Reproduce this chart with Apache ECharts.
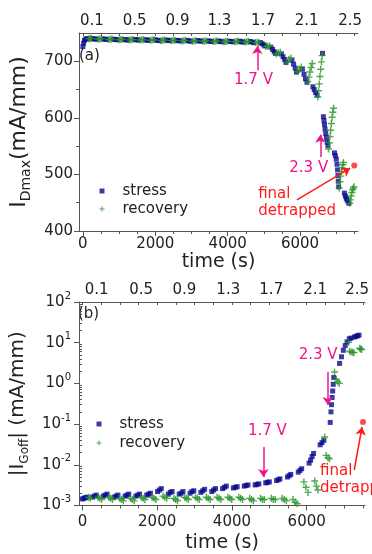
<!DOCTYPE html>
<html>
<head>
<meta charset="utf-8">
<script src="https://cdn.jsdelivr.net/npm/echarts@6/dist/echarts.min.js"></script>
<style>
  html, body { margin: 0; padding: 0; background: #fff; }
  #chart { width: 372px; height: 554px; }
</style>
</head>
<body>
<div id="chart"></div>
<script>
const font = 'DejaVu Sans';
const axisColor = '#555';
const textColor = '#222';
const pink = '#f0148c';
const red = '#ff1a1a';
const blue = '#0a0a90';
const green = '#249424';

// tick labels
const timeLabels = [0, 2000, 4000, 6000];
const voltLabels = ['0.1', '0.5', '0.9', '1.3', '1.7', '2.1', '2.5'];
const voltTimesA = [249, 1431, 2614, 3772, 4976, 6180, 7384];
const voltTimesB = [379, 1572, 2728, 3903, 5052, 6227, 7350];
const idmaxLabels = [400, 500, 600, 700];
const idmaxMinor = [450, 550, 650];
const igoffLabels = [1e-3, 1e-2, 1e-1, 1, 10, 100];

// (a) I_Dmax, mA/mm
const stressA = [
  [0, 726], [20, 732], [45, 737], [80, 739.5], [120, 740],
  [270, 740], [320, 739.5], [370, 739],
  [560, 739.5], [610, 739], [660, 738.5],
  [850, 739], [900, 738.5], [950, 738],
  [1140, 738.5], [1190, 738], [1240, 737.5],
  [1430, 738.5], [1480, 738], [1530, 737.5],
  [1720, 738], [1770, 737.5], [1820, 737],
  [2010, 738], [2060, 737], [2110, 736.5],
  [2300, 737.5], [2350, 737], [2400, 736.5],
  [2590, 737], [2640, 736.5], [2690, 736],
  [2880, 737], [2930, 736], [2980, 735.5],
  [3170, 736.5], [3220, 736], [3270, 735.5],
  [3460, 736], [3510, 735.5], [3560, 735],
  [3750, 736], [3800, 735], [3850, 734.5],
  [4040, 735.5], [4090, 735], [4140, 734.5],
  [4330, 735.5], [4380, 734.5], [4430, 734],
  [4620, 735], [4670, 734], [4720, 733],
  [4905, 733], [4950, 731], [5000, 729], [5030, 727],
  [5195, 725], [5240, 721], [5285, 717], [5320, 714],
  [5485, 713], [5530, 708], [5575, 703], [5610, 698],
  [5775, 702], [5820, 695], [5865, 688], [5900, 681],
  [6065, 686], [6110, 677], [6150, 669], [6190, 663],
  [6355, 655], [6390, 650], [6430, 645], [6470, 640],
  [6620, 714], [6645, 602], [6660, 595], [6675, 588], [6690, 580], [6710, 572], [6730, 565], [6750, 557], [6770, 551],
  [6950, 538], [6975, 533], [7000, 527], [7020, 518], [7035, 508], [7045, 498], [7055, 488], [7065, 478],
  [7225, 467], [7250, 462], [7275, 458], [7300, 455], [7325, 452], [7350, 449]
];
const recoveryA = [
  [160, 740], [200, 740], [235, 740.5],
  [415, 739], [465, 739.5], [515, 740],
  [705, 738.5], [755, 739], [805, 739.5],
  [995, 738], [1045, 738.5], [1095, 739],
  [1285, 737.5], [1335, 738], [1385, 738.5],
  [1575, 737.5], [1625, 738], [1675, 738],
  [1865, 737], [1915, 737.5], [1965, 738],
  [2155, 736.5], [2205, 737], [2255, 737.5],
  [2445, 736.5], [2495, 737], [2545, 737],
  [2735, 736], [2785, 736.5], [2835, 737],
  [3025, 735.5], [3075, 736], [3125, 736.5],
  [3315, 735.5], [3365, 736], [3415, 736],
  [3605, 735], [3655, 735.5], [3705, 736],
  [3895, 734.5], [3945, 735], [3995, 735.5],
  [4185, 734.5], [4235, 735], [4285, 735.5],
  [4475, 734], [4525, 734.5], [4575, 735],
  [4765, 733], [4815, 733.5], [4865, 733.5],
  [5055, 726], [5105, 726.5], [5160, 727],
  [5345, 713], [5400, 715], [5455, 716],
  [5635, 699], [5690, 703], [5745, 706],
  [5925, 682], [5980, 686], [6035, 690],
  [6215, 664], [6245, 672], [6275, 681], [6305, 689], [6335, 696],
  [6490, 637], [6510, 648], [6530, 660], [6550, 673], [6570, 686], [6590, 699], [6610, 710],
  [6785, 545], [6805, 556], [6825, 567], [6845, 578], [6865, 590], [6885, 601], [6905, 610], [6925, 617],
  [7080, 476], [7100, 487], [7120, 497], [7140, 505], [7160, 512], [7180, 517], [7200, 521],
  [7370, 449], [7390, 455], [7410, 462], [7430, 468], [7450, 473], [7470, 476], [7490, 478]
];
const finalA = [[7497, 516]];

// (b) |I_Goff|, mA/mm
const stressB = [
  [0, 0.00145], [40, 0.0015], [80, 0.00155], [120, 0.0016],
  [270, 0.0016], [320, 0.0017], [370, 0.0018],
  [560, 0.0017], [610, 0.0018], [660, 0.0019],
  [850, 0.0016], [900, 0.0017], [950, 0.0018],
  [1140, 0.0017], [1190, 0.0018], [1240, 0.0019],
  [1430, 0.0017], [1480, 0.0018], [1530, 0.0019],
  [1720, 0.0018], [1770, 0.0019], [1820, 0.0020],
  [2010, 0.0022], [2060, 0.0024], [2110, 0.0026],
  [2300, 0.0019], [2350, 0.0021], [2400, 0.0022],
  [2590, 0.0019], [2640, 0.0020], [2690, 0.0022],
  [2880, 0.0020], [2930, 0.0022], [2980, 0.0023],
  [3170, 0.0021], [3220, 0.0023], [3270, 0.0025],
  [3460, 0.0022], [3510, 0.0024], [3560, 0.0026],
  [3750, 0.0026], [3800, 0.0028], [3850, 0.0030],
  [4040, 0.0027], [4090, 0.0028], [4140, 0.0029],
  [4330, 0.0030], [4380, 0.0031], [4430, 0.0032],
  [4620, 0.0032], [4670, 0.0033], [4720, 0.0034],
  [4905, 0.0036], [4950, 0.0037], [5000, 0.0038],
  [5195, 0.0041], [5240, 0.0043], [5285, 0.0045],
  [5485, 0.0050], [5530, 0.0054], [5575, 0.0058],
  [5775, 0.0066], [5820, 0.0073], [5865, 0.0080],
  [6065, 0.011], [6105, 0.013], [6145, 0.016], [6185, 0.019],
  [6360, 0.031], [6410, 0.035], [6460, 0.040],
  [6630, 0.11], [6650, 0.2], [6665, 0.3], [6680, 0.45], [6695, 0.65], [6710, 0.95], [6725, 1.4],
  [6880, 3.1], [6930, 4.5], [6980, 6.5], [7030, 8.5], [7080, 10.5], [7140, 12.5], [7190, 13],
  [7280, 13.8], [7320, 14.3], [7360, 14.8], [7400, 15.3]
];
const recoveryB = [
  [170, 0.0016], [210, 0.0015],
  [415, 0.0016], [465, 0.0015], [515, 0.0014],
  [705, 0.0016], [755, 0.0015], [805, 0.0014],
  [995, 0.0015], [1045, 0.0014], [1095, 0.0013],
  [1285, 0.0015], [1335, 0.0014], [1385, 0.0013],
  [1575, 0.0016], [1625, 0.0015], [1675, 0.0014],
  [1865, 0.0016], [1915, 0.0015], [1965, 0.0014],
  [2155, 0.0017], [2205, 0.0016], [2255, 0.0015],
  [2445, 0.0015], [2495, 0.0014], [2545, 0.0013],
  [2735, 0.0016], [2785, 0.0015], [2835, 0.0014],
  [3025, 0.0016], [3075, 0.0015], [3125, 0.0014],
  [3315, 0.0016], [3365, 0.0015], [3415, 0.0014],
  [3605, 0.0016], [3655, 0.0015], [3705, 0.0014],
  [3895, 0.0016], [3945, 0.0015], [3995, 0.0014],
  [4185, 0.0016], [4235, 0.0015], [4285, 0.0014],
  [4475, 0.0015], [4525, 0.0014], [4575, 0.0013],
  [4765, 0.0015], [4815, 0.0014], [4865, 0.0014],
  [5055, 0.0015], [5105, 0.0014], [5160, 0.0014],
  [5345, 0.0015], [5400, 0.0014], [5455, 0.0013],
  [5635, 0.0014], [5690, 0.0012], [5745, 0.0011],
  [5925, 0.0038], [5980, 0.0028], [6035, 0.0021],
  [6215, 0.0040], [6260, 0.0030], [6300, 0.0024],
  [6480, 0.048], [6520, 0.017], [6570, 0.015], [6610, 0.014],
  [6745, 1.9], [6790, 1.25], [6830, 1.1], [6870, 1.0],
  [7120, 10.2], [7150, 6.2], [7190, 5.9], [7230, 5.8], [7265, 5.7],
  [7420, 7.3], [7445, 7.0], [7470, 6.8]
];
const finalB = [[7507, 0.113]];

const plusIcon = 'path://M2,0H3V2H5V3H3V5H2V3H0V2H2Z';

// minor ticks
const minorTimes = [];
const topTimes = [];
for (let t = 0; t <= 7500; t += 500) {
    topTimes.push(t);
    if (t % 2000 !== 0) minorTimes.push(t);
}
const igoffMinor = [];
for (let e = -3; e < 2; e++) {
    for (let m = 2; m <= 9; m++) igoffMinor.push(m * Math.pow(10, e));
}

const lineStyle = { color: axisColor, width: 1 };
const labelText = { color: textColor, fontFamily: font, fontSize: 15 };

function timeAxes(grid, min, max, margin, nameGap, voltTimes) {
    return [
        {
            gridIndex: grid, type: 'value', position: 'bottom', min: min, max: max,
            axisLine: { show: true, onZero: false, lineStyle: lineStyle },
            axisTick: { show: true, length: 5, customValues: timeLabels, lineStyle: lineStyle },
            axisLabel: Object.assign({ customValues: timeLabels, margin: margin, formatter: v => String(v) }, labelText),
            splitLine: { show: false },
            name: 'time (s)', nameLocation: 'middle', nameGap: nameGap,
            nameTextStyle: { color: textColor, fontFamily: font, fontSize: 19 }
        },
        {
            gridIndex: grid, type: 'value', position: 'bottom', min: min, max: max,
            axisLine: { show: false, onZero: false },
            axisTick: { show: true, length: 3, customValues: minorTimes, lineStyle: lineStyle },
            axisLabel: { show: false },
            splitLine: { show: false }
        },
        {
            gridIndex: grid, type: 'value', position: 'top', min: min, max: max,
            axisLine: { show: true, onZero: false, lineStyle: lineStyle },
            axisTick: { show: true, inside: true, length: 3, customValues: topTimes, lineStyle: lineStyle },
            axisLabel: Object.assign({
                customValues: voltTimes, margin: 4,
                formatter: v => voltLabels[voltTimes.indexOf(v)]
            }, labelText),
            splitLine: { show: false }
        }
    ];
}

const chart = echarts.init(document.getElementById('chart'));

chart.setOption({
    animation: false,
    textStyle: { fontFamily: font },
    grid: [
        { left: 71, top: 33, width: 287, height: 198 },
        { left: 72, top: 302, width: 293, height: 203.5 }
    ],
    legend: [
        {
            left: 94.5, top: 178.5, orient: 'vertical', itemWidth: 5, itemHeight: 5, itemGap: 3,
            selectedMode: false,
            data: [{ name: 'stress', icon: 'rect' }, { name: 'recovery', icon: plusIcon }],
            textStyle: { color: textColor, fontFamily: font, fontSize: 15, padding: [0, 0, 0, 13] }
        },
        {
            left: 91.5, top: 411.5, orient: 'vertical', itemWidth: 5, itemHeight: 5, itemGap: 4,
            selectedMode: false,
            data: [{ name: 'stress', icon: 'rect' }, { name: 'recovery', icon: plusIcon }],
            textStyle: { color: textColor, fontFamily: font, fontSize: 15, padding: [0, 0, 0, 13] }
        }
    ],
    xAxis: timeAxes(0, -107, 7600, 6, 22, voltTimesA).concat(timeAxes(1, -91, 7560, 9, 28, voltTimesB)),
    yAxis: [
        {
            gridIndex: 0, type: 'value', position: 'left', min: 400, max: 750,
            axisLine: { show: true, onZero: false, lineStyle: lineStyle },
            axisTick: { show: true, length: 5, customValues: idmaxLabels, lineStyle: lineStyle },
            axisLabel: Object.assign({ customValues: idmaxLabels, margin: 6 }, labelText),
            splitLine: { show: false },
            name: '{i|I}{s|Dmax}{i|(mA/mm)}', nameLocation: 'middle', nameRotate: 90, nameGap: 46,
            nameTextStyle: {
                rich: {
                    i: { fontSize: 22, lineHeight: 28, color: textColor, fontFamily: font },
                    s: { fontSize: 14, lineHeight: 14, verticalAlign: 'bottom', color: textColor, fontFamily: font }
                }
            }
        },
        {
            gridIndex: 0, type: 'value', position: 'left', min: 400, max: 750,
            axisLine: { show: false, onZero: false },
            axisTick: { show: true, length: 3, customValues: idmaxMinor, lineStyle: lineStyle },
            axisLabel: { show: false },
            splitLine: { show: false }
        },
        {
            gridIndex: 1, type: 'log', position: 'left', logBase: 10, min: 1e-3, max: 100,
            axisLine: { show: true, onZero: false, lineStyle: lineStyle },
            axisTick: { show: true, length: 5, customValues: igoffLabels, lineStyle: lineStyle },
            axisLabel: Object.assign({
                customValues: igoffLabels, margin: 8, lineHeight: 22,
                formatter: v => '10{sup|' + Math.round(Math.log10(v)) + '}',
                rich: { sup: { fontSize: 10, lineHeight: 10, verticalAlign: 'top', color: textColor, fontFamily: font } }
            }, labelText),
            splitLine: { show: false },
            name: '{i||I}{s|Goff}{i|| (mA/mm)}', nameLocation: 'middle', nameRotate: 90, nameGap: 48,
            nameTextStyle: {
                rich: {
                    i: { fontSize: 20, lineHeight: 26, color: textColor, fontFamily: font },
                    s: { fontSize: 12, lineHeight: 12, verticalAlign: 'bottom', color: textColor, fontFamily: font }
                }
            }
        },
        {
            gridIndex: 1, type: 'log', position: 'left', logBase: 10, min: 1e-3, max: 100,
            axisLine: { show: false, onZero: false },
            axisTick: { show: true, inside: true, length: 3, customValues: igoffMinor, lineStyle: lineStyle },
            axisLabel: { show: false },
            splitLine: { show: false }
        }
    ],
    graphic: [
        { type: 'text', left: 79, top: 49, style: { text: '(a)', font: '15px "DejaVu Sans"', fill: textColor } },
        { type: 'text', left: 78, top: 307, style: { text: '(b)', font: '15px "DejaVu Sans"', fill: textColor } }
    ],
    series: [
        {
            name: 'stress', type: 'scatter', xAxisIndex: 0, yAxisIndex: 0,
            symbol: 'rect', symbolSize: 5, itemStyle: { color: blue }, data: stressA
        },
        {
            name: 'recovery', type: 'scatter', xAxisIndex: 0, yAxisIndex: 0,
            symbol: plusIcon, symbolSize: 7, itemStyle: { color: green }, data: recoveryA
        },
        {
            name: 'final detrapped', type: 'scatter', xAxisIndex: 0, yAxisIndex: 0,
            symbol: 'circle', symbolSize: 6, itemStyle: { color: red }, data: finalA,
            markLine: {
                silent: true, symbol: ['none', 'arrow'], symbolSize: 8, label: { show: false },
                data: [
                    [{ coord: [4819, 684], lineStyle: { color: pink, width: 1.5, type: 'solid' } }, { coord: [4819, 727] }],
                    [{ coord: [6560, 531], lineStyle: { color: pink, width: 1.5, type: 'solid' } }, { coord: [6560, 570] }],
                    [{ coord: [5912, 455], lineStyle: { color: red, width: 1.5, type: 'solid' } }, { coord: [7384, 511] }]
                ]
            },
            markPoint: {
                symbol: 'rect', symbolSize: 1, itemStyle: { color: 'rgba(0,0,0,0)' },
                data: [
                    { coord: [4712, 666], label: { formatter: '1.7 V', color: pink, fontSize: 15, fontFamily: font } },
                    { coord: [6238, 511], label: { formatter: '2.3 V', color: pink, fontSize: 15, fontFamily: font } },
                    { coord: [4842, 450], label: { formatter: 'final\ndetrapped', align: 'left', lineHeight: 17, color: red, fontSize: 15, fontFamily: font } }
                ]
            }
        },
        {
            name: 'stress', type: 'scatter', xAxisIndex: 3, yAxisIndex: 2,
            symbol: 'rect', symbolSize: 5, itemStyle: { color: blue }, data: stressB
        },
        {
            name: 'recovery', type: 'scatter', xAxisIndex: 3, yAxisIndex: 2,
            symbol: plusIcon, symbolSize: 7, itemStyle: { color: green }, data: recoveryB
        },
        {
            name: 'final detrapped', type: 'scatter', xAxisIndex: 3, yAxisIndex: 2,
            symbol: 'circle', symbolSize: 6, itemStyle: { color: red }, data: finalB,
            markLine: {
                silent: true, symbol: ['none', 'arrow'], symbolSize: 8, label: { show: false },
                data: [
                    [{ coord: [4843, 0.0274], lineStyle: { color: pink, width: 1.5, type: 'solid' } }, { coord: [4843, 0.005] }],
                    [{ coord: [6567, 1.91], lineStyle: { color: pink, width: 1.5, type: 'solid' } }, { coord: [6567, 0.294] }],
                    [{ coord: [7272, 0.00745], lineStyle: { color: red, width: 1.5, type: 'solid' } }, { coord: [7480, 0.0849] }]
                ]
            },
            markPoint: {
                symbol: 'rect', symbolSize: 1, itemStyle: { color: 'rgba(0,0,0,0)' },
                data: [
                    { coord: [4948, 0.0676], label: { formatter: '1.7 V', color: pink, fontSize: 15, fontFamily: font } },
                    { coord: [6305, 4.99], label: { formatter: '2.3 V', color: pink, fontSize: 15, fontFamily: font } },
                    { coord: [6358, 0.00435], label: { formatter: 'final\ndetrapped', align: 'left', lineHeight: 17, color: red, fontSize: 15, fontFamily: font } }
                ]
            }
        }
    ]
});
</script>
</body>
</html>
